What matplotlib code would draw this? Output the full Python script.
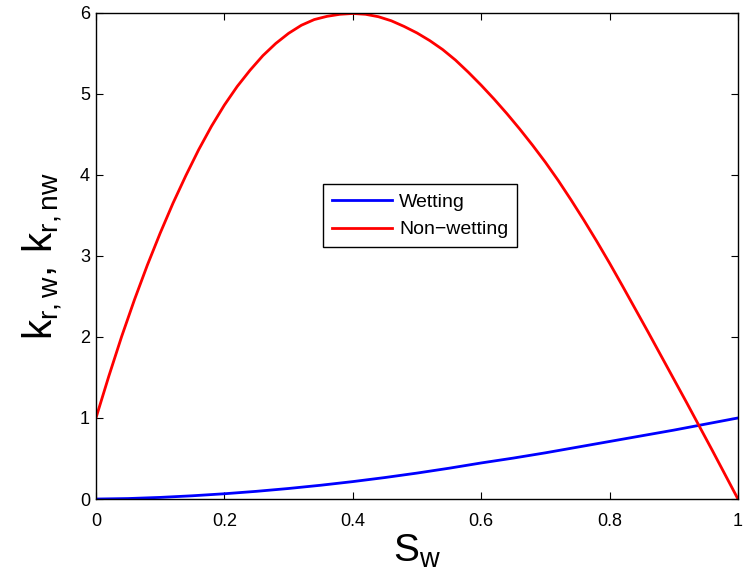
import matplotlib
matplotlib.use("Agg")
import matplotlib.pyplot as plt

plt.rcParams['font.family'] = ['Liberation Sans', 'DejaVu Sans']
plt.rcParams['mathtext.fontset'] = 'custom'
plt.rcParams['mathtext.rm'] = 'Liberation Sans'
plt.rcParams['mathtext.it'] = 'Liberation Sans'

# Data
sw_wet = [0.0, 0.05, 0.1, 0.15, 0.2, 0.25, 0.3, 0.35, 0.4, 0.45, 0.5,
          0.55, 0.6, 0.65, 0.7, 0.75, 0.8, 0.85, 0.9, 0.95, 1.0]
k_wet = [0.0, 0.006, 0.02, 0.04, 0.065, 0.095, 0.13, 0.17, 0.215, 0.265, 0.32,
         0.38, 0.445, 0.505, 0.57, 0.64, 0.71, 0.78, 0.85, 0.925, 1.0]

sw_nw = [0.0, 0.02, 0.04, 0.06, 0.08, 0.10, 0.12, 0.14, 0.16, 0.18, 0.20,
         0.22, 0.24, 0.26, 0.28, 0.30, 0.32, 0.34, 0.36, 0.38, 0.40,
         0.42, 0.44, 0.46, 0.48, 0.50, 0.52, 0.54, 0.56, 0.58, 0.60,
         0.62, 0.64, 0.66, 0.68, 0.70, 0.72, 0.74, 0.76, 0.78, 0.80,
         0.82, 0.84, 0.86, 0.88, 0.90, 0.92, 0.94, 0.96, 0.98, 1.0]
k_nw = [1.0, 1.515, 2.005, 2.46, 2.885, 3.28, 3.65, 3.99, 4.31, 4.60, 4.86,
        5.09, 5.29, 5.47, 5.62, 5.745, 5.845, 5.915, 5.955, 5.98, 5.99,
        5.98, 5.95, 5.90, 5.83, 5.75, 5.655, 5.545, 5.415, 5.265, 5.105,
        4.935, 4.755, 4.565, 4.365, 4.155, 3.93, 3.69, 3.44, 3.18, 2.91,
        2.63, 2.345, 2.06, 1.77, 1.48, 1.19, 0.895, 0.60, 0.30, 0.0]

xticks = [0, 0.2, 0.4, 0.6, 0.8, 1]
xticklabels = ['0', '0.2', '0.4', '0.6', '0.8', '1']
yticks = [0, 1, 2, 3, 4, 5, 6]
yticklabels = ['0', '1', '2', '3', '4', '5', '6']

fig = plt.figure(figsize=(7.48, 5.84), dpi=100)
ax = fig.add_axes([0.1283, 0.1455, 0.8583, 0.8328])

ax.plot(sw_wet, k_wet, color=(0, 0, 1), lw=2, label='Wetting')
ax.plot(sw_nw, k_nw, color=(1, 0, 0), lw=2, label='Non\u2212wetting')

ax.set_xlim(0, 1)
ax.set_ylim(0, 6)
ax.set_xticks(xticks)
ax.set_xticklabels(xticklabels)
ax.set_yticks(yticks)
ax.set_yticklabels(yticklabels)
ax.tick_params(direction='in', length=5, width=0.8, top=True, right=True,
               labelsize=13)
ax.tick_params(axis='x', pad=10)
ax.tick_params(axis='y', pad=4.3)
for s in ax.spines.values():
    s.set_linewidth(1.0)

ax.set_xlabel(r'$\mathregular{S_w}$', fontsize=28, labelpad=2)
ax.set_ylabel(r'$\mathregular{k_{r,w},\,k_{r,nw}}$', fontsize=29, labelpad=11)

leg = ax.legend(loc='upper left', bbox_to_anchor=(0.3536, 0.6475), borderaxespad=0,
                fancybox=False, framealpha=1, edgecolor='black', fontsize=14,
                handlelength=3.1, handletextpad=0.36, borderpad=0.46,
                labelspacing=0.52)
leg.get_frame().set_linewidth(1.0)

fig.savefig('out.png', dpi=100)
